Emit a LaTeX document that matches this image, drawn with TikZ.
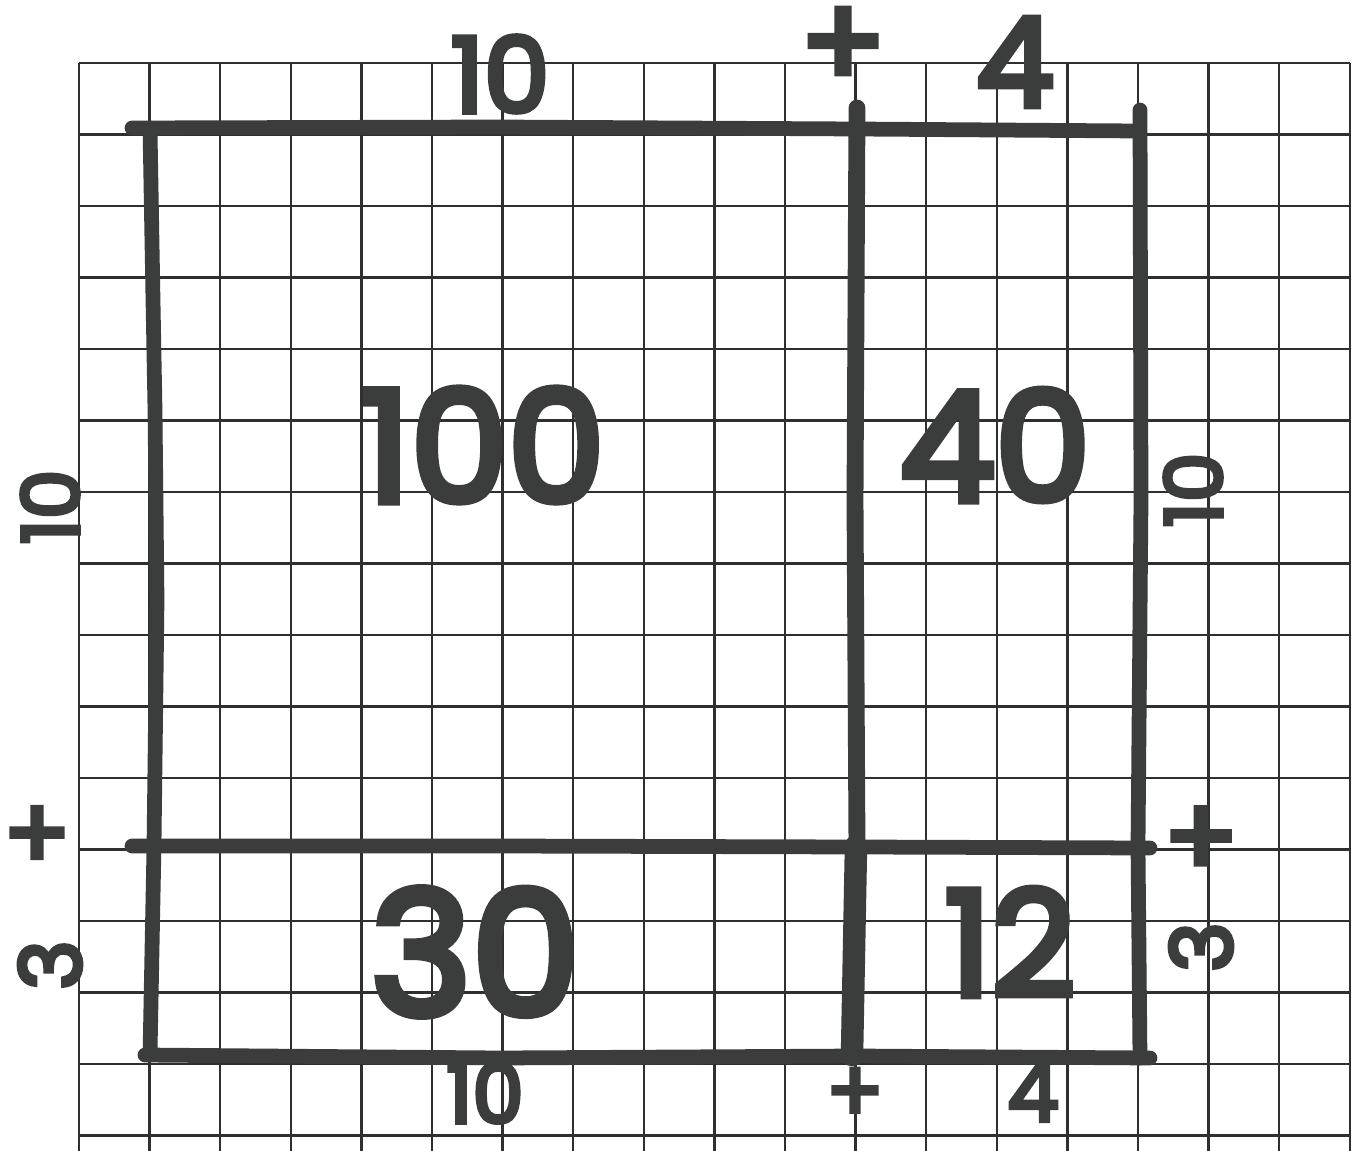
\documentclass[tikz,border=0pt]{standalone}
\usepackage{fontspec}
\newfontfamily\hand{Poppins}[FakeBold=5]
\definecolor{ink}{HTML}{3B3D3C}
\definecolor{gridc}{HTML}{2E2F2E}
\tikzset{
  gridline/.style={line width=1.8pt, draw=gridc},
  pen/.style={line width=10.5pt, draw=ink, line cap=round, line join=round},
  lbl/.style={text=ink, inner sep=0pt, anchor=center},
}
\newcommand{\fs}[1]{\hand\fontsize{#1}{#1}\selectfont}
\begin{document}
\begin{tikzpicture}[x=0.25mm,y=-0.25mm]
\useasboundingbox (0,0) rectangle (1355,1151);
\fill[white] (0,0) rectangle (1355,1151);
% grid paper
\foreach \i in {0,...,18} \draw[gridline] ({79+\i*70.6},63) -- ({79+\i*70.6},1151);
\foreach \j in {0,...,15} \draw[gridline] (79,{63+\j*71.5}) -- (1350,{63+\j*71.5});
% area model outline
\coordinate (tl) at (150,128);
\coordinate (tm) at (857,108);
\coordinate (tr) at (1140,110);
\coordinate (ml) at (132,846);
\coordinate (mr) at (1150,848);
\coordinate (bl) at (150,1055);
\coordinate (bm) at (852,1055);
\coordinate (br) at (1140,1058);
\draw[pen] (132,128) -- (500,127) -- (857,129) -- (1138,131);
\draw[pen] (tl) -- (153,300) -- (155,410) -- (157,600) -- (154,846) -- (bl);
\draw[pen, line width=12pt] (tm) -- (855,500) -- (857,846) -- (bm);
\draw[pen, line width=16pt] (856,846) -- (bm);
\draw[pen] (tr) -- (1141,500) -- (1138,846) -- (br);
\draw[pen] (ml) -- (500,846) -- (860,847) -- (mr);
\draw[pen] (145,1055) -- (500,1058) -- (857,1056) -- (1150,1058);
% area labels
\node[lbl, font=\fs{110}] (a100) at (483,445) {100};
\node[lbl, font=\fs{108}] (a40) at (995,445) {40};
\node[lbl, font=\fs{122}] (a30) at (475,952) {30};
\node[lbl, font=\fs{104}] (a12) at (1010,942) {12};
% top dimensions
\node[lbl, font=\fs{74}] (top10) at (500,74) {10};
\node[lbl, font=\fs{90}] (topplus) at (843,48) {+};
\node[lbl, font=\fs{88}] (top4) at (1015,62) {4};
% bottom dimensions
\node[lbl, font=\fs{58}] (bot10) at (485,1093) {10};
\node[lbl, font=\fs{60}] (botplus) at (855,1095) {+};
\node[lbl, font=\fs{58}] (bot4) at (1033,1092) {4};
% left dimensions
\node[lbl, font=\fs{56}, rotate=90] (left10) at (50,507) {10};
\node[lbl, font=\fs{70}] (leftplus) at (37,838) {+};
\node[lbl, font=\fs{60}, rotate=90] (left3) at (50,965) {3};
% right dimensions
\node[lbl, font=\fs{56}, rotate=90] (right10) at (1193,490) {10};
\node[lbl, font=\fs{78}] (rightplus) at (1201,842) {+};
\node[lbl, font=\fs{60}, rotate=90] (right3) at (1201,947) {3};
\end{tikzpicture}
\end{document}
